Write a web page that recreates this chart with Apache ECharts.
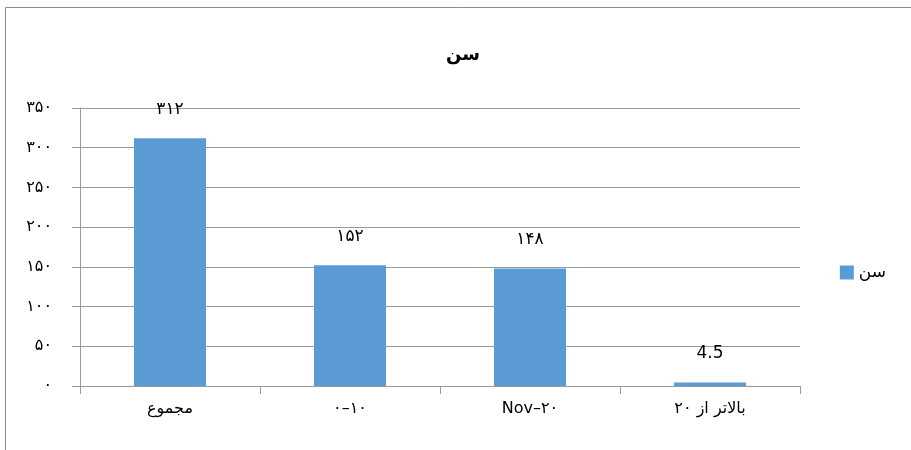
<!DOCTYPE html>
<html><head><meta charset="utf-8">
<script src="https://cdn.jsdelivr.net/npm/echarts@6/dist/echarts.min.js"></script>
<style>html,body{margin:0;padding:0;background:#fff}#c{width:911px;height:450px}</style>
</head><body><div id="c"></div>
<script>
const categories = ['مجموع', '۰–۱۰', 'Nov–۲۰', 'بالاتر از ۲۰'];
const values = [312, 152, 148, 4.5];
const seriesName = 'سن';
const titleText = 'سن';
const yMin = 0, yMax = 350, yInterval = 50;

function toFa(v){ return String(v).replace(/\d/g, d => '۰۱۲۳۴۵۶۷۸۹'[d]); }

const chart = echarts.init(document.getElementById('c'));
chart.setOption({
  animation: false,
  backgroundColor: '#fff',
  graphic: [{type:'rect', shape:{x:5.5,y:7.5,width:960,height:500}, style:{fill:'none', stroke:'#8c8c8c', lineWidth:1}}],
  title: {text: titleText, left: 458, top: 41, textAlign: 'center',
    textStyle: {fontFamily: 'DejaVu Sans', fontWeight: 'bold', fontSize: 18, color: '#000'}},
  legend: {right: 20, top: 259, orient: 'vertical', itemWidth: 14, itemHeight: 14, itemGap: 6,
    data: [{name: seriesName, icon: 'rect'}],
    textStyle: {fontFamily: 'DejaVu Sans', fontSize: 17, color: '#000'}},
  grid: {left: 80, right: 111, top: 108, bottom: 64},
  xAxis: {type: 'category', data: categories,
    axisLine: {lineStyle: {color: '#9a9a9a'}},
    axisTick: {show: true, length: 8, lineStyle: {color: '#9a9a9a'}},
    axisLabel: {margin: 15, fontFamily: 'DejaVu Sans', fontSize: 16, color: '#000'}},
  yAxis: {type: 'value', min: yMin, max: yMax, interval: yInterval,
    axisLine: {show: true, lineStyle: {color: '#9a9a9a'}},
    axisTick: {show: true, length: 8, lineStyle: {color: '#9a9a9a'}},
    splitLine: {lineStyle: {color: '#9a9a9a'}},
    axisLabel: {margin: 28, fontFamily: 'DejaVu Sans', fontSize: 16, color: '#000', formatter: v => toFa(v)}},
  series: [{name: seriesName, type: 'bar', data: values, barWidth: '40%',
    itemStyle: {color: '#5b9bd5'},
    label: {show: true, position: 'top', distance: 20, fontFamily: 'DejaVu Sans', fontSize: 17, color: '#000',
      formatter: p => Number.isInteger(p.value) ? toFa(p.value) : String(p.value)}}]
});
</script></body></html>
